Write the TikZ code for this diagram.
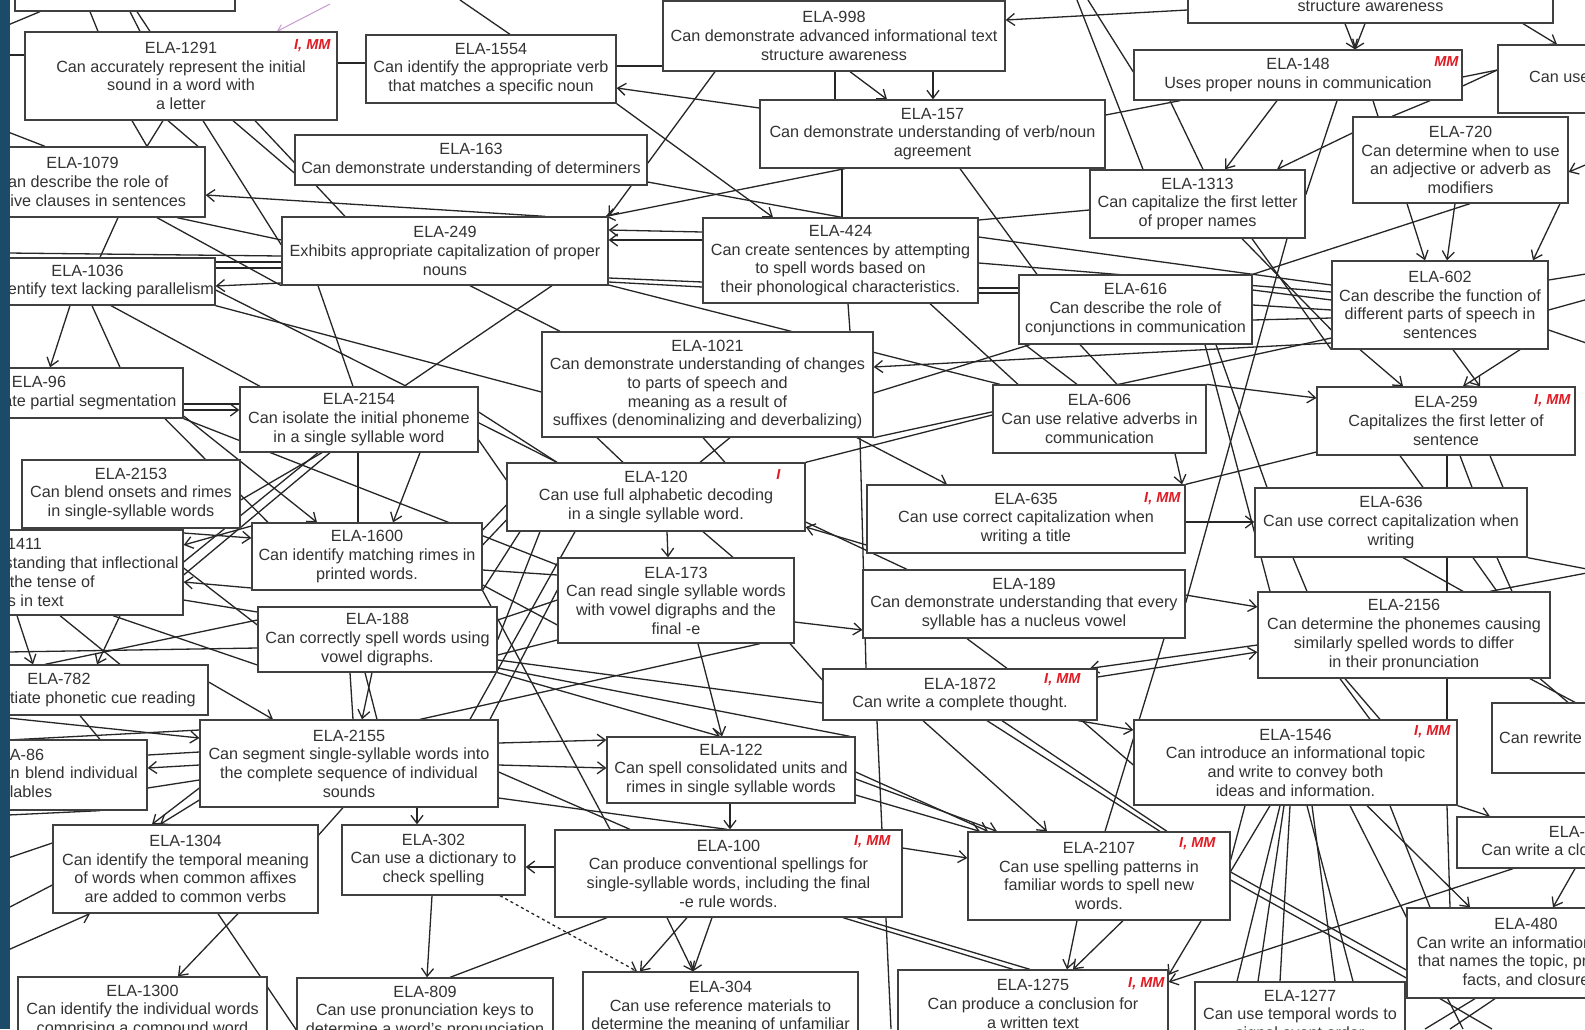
\documentclass[tikz,border=0pt]{standalone}
\usepackage{fontspec}
\setmainfont{Liberation Sans}
\usetikzlibrary{arrows.meta}
\pgfdeclarelayer{bg}
\pgfsetlayers{bg,main}
\definecolor{bandblue}{HTML}{1B4B68}
\definecolor{tagred}{HTML}{E01B24}
\definecolor{pinkline}{HTML}{C99AD0}
\tikzset{
 box/.style={draw=black!75, line width=1.3pt, fill=white, rectangle, inner sep=0pt, align=center,
   font=\fontsize{16.2}{18.7}\selectfont, text=black!80},
 ln/.style={line width=1.3pt, draw=black!85},
 ar/.style={ln, -{Straight Barb[length=8pt,width=12pt]}},
 tag/.style={font=\fontsize{14.5}{14.5}\selectfont\bfseries\itshape, text=tagred, anchor=north east, inner sep=0pt},
}
\begin{document}
\begin{tikzpicture}[x=1pt,y=-1pt]
\useasboundingbox (0,0) rectangle (1585,1029);
\begin{pgfonlayer}{bg}
\fill[white] (0,0) rectangle (1585,1029);
\end{pgfonlayer}

% ---------- boxes ----------
\node[box, minimum width=220, minimum height=52] (T1) at (125,-15) {};
\node[box, minimum width=312, minimum height=88] (n1291) at (181,76) {ELA-1291\\Can accurately represent the initial\\sound in a word with\\a letter};
\node[box, minimum width=250, minimum height=68] (n1554) at (491,69) {ELA-1554\\Can identify the appropriate verb\\that matches a specific noun};
\node[box, minimum width=342, minimum height=70] (n998) at (834,36) {ELA-998\\Can demonstrate advanced informational text\\structure awareness};
\node[box, minimum width=365, minimum height=54] (T2) at (1370.5,-4) {Can demonstrate informational text\\structure awareness};
\node[box, minimum width=262, minimum height=68] (nCanUse) at (1629,79) {ELA-1507\\Can use sentence variety in\\writing};
\node[box, minimum width=328, minimum height=50] (n148) at (1298,75) {ELA-148\\Uses proper nouns in communication};
\node[box, minimum width=345, minimum height=68] (n157) at (932.5,134) {ELA-157\\Can demonstrate understanding of verb/noun\\agreement};
\node[box, minimum width=352, minimum height=50] (n163) at (471,160) {ELA-163\\Can demonstrate understanding of determiners};
\node[box, minimum width=245, minimum height=70] (n1079) at (82.5,182) {ELA-1079\\Can describe the role of\\relative clauses in sentences};
\node[box, minimum width=255, minimum height=47] (n1036) at (87.5,281.5) {ELA-1036\\Can identify text lacking parallelism};
\node[box, minimum width=326, minimum height=68] (n249) at (445,251) {ELA-249\\Exhibits appropriate capitalization of proper\\nouns};
\node[box, minimum width=275, minimum height=85] (n424) at (840.5,260.5) {ELA-424\\Can create sentences by attempting\\to spell words based on\\their phonological characteristics.};
\node[box, minimum width=215, minimum height=68] (n1313) at (1197.5,204) {ELA-1313\\Can capitalize the first letter\\of proper names};
\node[box, minimum width=215, minimum height=86] (n720) at (1460.5,160) {ELA-720\\Can determine when to use\\an adjective or adverb as\\modifiers};
\node[box, minimum width=233, minimum height=69] (n616) at (1135.5,309.5) {ELA-616\\Can describe the role of\\conjunctions in communication};
\node[box, minimum width=216, minimum height=88] (n602) at (1440,305) {ELA-602\\Can describe the function of\\different parts of speech in\\sentences};
\node[box, minimum width=331, minimum height=105] (n1021) at (707.5,384.5) {ELA-1021\\Can demonstrate understanding of changes\\to parts of speech and\\meaning as a result of\\suffixes (denominalizing and deverbalizing)};
\node[box, minimum width=288, minimum height=50] (n96) at (39,393) {ELA-96\\Can demonstrate partial segmentation};
\node[box, minimum width=238, minimum height=65] (n2154) at (359,419.5) {ELA-2154\\Can isolate the initial phoneme\\in a single syllable word};
\node[box, minimum width=218, minimum height=68] (n2153) at (131,494) {ELA-2153\\Can blend onsets and rimes\\in single-syllable words};
\node[box, minimum width=353, minimum height=85] (n1411) at (6.5,572.5) {ELA-1411\\Can demonstrate understanding that inflectional\\affixes mark the tense of\\the verbs in text};
\node[box, minimum width=230, minimum height=67] (n1600) at (367,556.5) {ELA-1600\\Can identify matching rimes in\\printed words.};
\node[box, minimum width=298, minimum height=68] (n120) at (656,497) {ELA-120\\Can use full alphabetic decoding\\in a single syllable word.};
\node[box, minimum width=236, minimum height=85] (n173) at (676,600.5) {ELA-173\\Can read single syllable words\\with vowel digraphs and the\\final -e};
\node[box, minimum width=239, minimum height=65] (n188) at (377.5,639.5) {ELA-188\\Can correctly spell words using\\vowel digraphs.};
\node[box, minimum width=298, minimum height=50] (n782) at (59,690) {ELA-782\\Can differentiate phonetic cue reading};
\node[box, minimum width=298, minimum height=87] (n2155) at (349,763.5) {ELA-2155\\Can segment single-syllable words into\\the complete sequence of individual\\sounds};
\node[box, minimum width=165, minimum height=70, align=left, text width=149pt] (n86) at (64.5,775) {ELA-86\\Can blend individual\\syllables};
\node[box, minimum width=265, minimum height=88] (n1304) at (185.5,869) {ELA-1304\\Can identify the temporal meaning\\of words when common affixes\\are added to common verbs};
\node[box, minimum width=183, minimum height=70] (n302) at (433.5,860) {ELA-302\\Can use a dictionary to\\check spelling};
\node[box, minimum width=248, minimum height=66] (n122) at (731,770) {ELA-122\\Can spell consolidated units and\\rimes in single syllable words};
\node[box, minimum width=347, minimum height=87] (n100) at (728.5,873.5) {ELA-100\\Can produce conventional spellings for\\single-syllable words, including the final\\-e rule words.};
\node[box, minimum width=262, minimum height=88] (n2107) at (1099,876) {ELA-2107\\Can use spelling patterns in\\familiar words to spell new\\words.};
\node[box, minimum width=323, minimum height=85] (n1546) at (1295.5,762.5) {ELA-1546\\Can introduce an informational topic\\and write to convey both\\ideas and information.};
\node[box, minimum width=316, minimum height=70] (nRew) at (1650,738) {ELA-1560\\Can rewrite sentences to improve the flow\\of ideas};
\node[box, minimum width=256, minimum height=51] (nWrite) at (1585,842.5) {ELA-1587\\Can write a closing sentence};
\node[box, minimum width=238, minimum height=90] (n480) at (1526,953) {ELA-480\\Can write an informational text\\that names the topic, provides\\facts, and closure};
\node[box, minimum width=210, minimum height=68] (n1277) at (1300,1016) {ELA-1277\\Can use temporal words to\\signal event order};
\node[box, minimum width=270, minimum height=68] (n1275) at (1033,1004) {ELA-1275\\Can produce a conclusion for\\a written text};
\node[box, minimum width=275, minimum height=86] (n304) at (720.5,1015) {ELA-304\\Can use reference materials to\\determine the meaning of unfamiliar\\words};
\node[box, minimum width=256, minimum height=68] (n809) at (425,1012) {ELA-809\\Can use pronunciation keys to\\determine a word's pronunciation};
\node[box, minimum width=249, minimum height=68] (n1300) at (142.5,1011) {ELA-1300\\Can identify the individual words\\comprising a compound word};
\node[box, minimum width=272, minimum height=69] (n636) at (1391,522.5) {ELA-636\\Can use correct capitalization when\\writing};
\node[box, minimum width=258, minimum height=68] (n259) at (1446,421) {ELA-259\\Capitalizes the first letter of\\sentence};
\node[box, minimum width=292, minimum height=86] (n2156) at (1404,635) {ELA-2156\\Can determine the phonemes causing\\similarly spelled words to differ\\in their pronunciation};
\node[box, minimum width=213, minimum height=68] (n606) at (1099.5,419) {ELA-606\\Can use relative adverbs in\\communication};
\node[box, minimum width=318, minimum height=68] (n635) at (1026,519) {ELA-635\\Can use correct capitalization when\\writing a title};
\node[box, minimum width=322, minimum height=68] (n189) at (1024,604) {ELA-189\\Can demonstrate understanding that every\\syllable has a nucleus vowel};
\node[box, minimum width=274, minimum height=51] (n1872) at (960,694.5) {ELA-1872\\Can write a complete thought.};

% ---------- red tags ----------
\node[tag] (t1291) at ([xshift=-7pt,yshift=-8pt]n1291.north east) {I, MM};
\node[tag] (t148) at ([xshift=-4pt,yshift=-7pt]n148.north east) {MM};
\node[tag] (t259) at ([xshift=-5pt,yshift=-8pt]n259.north east) {I, MM};
\node[tag] (t635) at ([xshift=-5pt,yshift=-8pt]n635.north east) {I, MM};
\node[tag] (t120) at ([xshift=-25pt,yshift=-7pt]n120.north east) {I};
\node[tag] (t1872) at ([xshift=-17pt,yshift=-5pt]n1872.north east) {I, MM};
\node[tag] (t100) at ([xshift=-12pt,yshift=-6pt]n100.north east) {I, MM};
\node[tag] (t2107) at ([xshift=-15pt,yshift=-6pt]n2107.north east) {I, MM};
\node[tag] (t1546) at ([xshift=-7pt,yshift=-6pt]n1546.north east) {I, MM};
\node[tag] (t1275) at ([xshift=-4pt,yshift=-8pt]n1275.north east) {I, MM};

% ---------- free ends ----------
\coordinate (L1) at (8,25);
\coordinate (L2) at (8,55);
\coordinate (L3) at (8,253);
\coordinate (L4) at (8,132);
\coordinate (L5) at (8,652);
\coordinate (L6) at (8,718);
\coordinate (L7) at (8,740);
\coordinate (L8) at (8,858);
\coordinate (L9) at (8,908);
\coordinate (L10) at (8,950);
\coordinate (L11) at (8,815);
\coordinate (Tp1) at (460,0);
\coordinate (Tp2) at (1077,0);
\coordinate (Tp3) at (1088,0);
\coordinate (R1) at (1590,163);
\coordinate (R2) at (1592,570);
\coordinate (R3) at (1592,572);
\coordinate (R4) at (1592,273);
\coordinate (R5) at (1592,298);
\coordinate (R6) at (1592,345);
\coordinate (B1) at (891,1029);
\coordinate (B2) at (1463,1029);
\coordinate (B3) at (1492,1029);
\coordinate (B4) at (1425,1029);
\coordinate (B5) at (1450,1029);
\coordinate (pk) at (330,4);

\begin{pgfonlayer}{bg}
% top band
\draw[ln] (T1.south -| 90,0) -- (n1291.north -| 98,0);
\draw[ln] (T1.south -| 130,0) -- (n1291.north -| 140,0);
\draw[ln] (T1.south -| 137,0) -- (n1291.north -| 150,0);
\draw[ln] (L1) -- (T1.south -| 40,0);
\draw[ln] (L2) -- (n1291.west |- 0,55);
\draw[ln] (n1291.east |- 0,63) -- (n1554.west |- 0,63);
\draw[ln] (n1554.east |- 0,66) -- (n998.west |- 0,66);
\draw[ln] (Tp1) -- (n1554.north -| 510,0);
\draw[ar] (n157.west |- 0,108) -- (n1554.east |- 0,88);
\draw[ar] (n998.south -| 715,0) -- (n249.north east);
\draw[ar] (n1554.south east) -- (n424.north -| 773,0);
\draw[ar] (n998.south -| 850,0) -- (n157.north -| 887,0);
\draw[ar] (n998.south -| 933,0) -- (n157.north -| 933,0);
\draw[ln] (n998.south -| 835,0) -- (n157.north -| 835,0);
\draw[ar] (T2.west |- 0,10) -- (n998.east |- 0,20);
\draw[ln] (Tp2) -- (n1313.north -| 1143,0);
\draw[ln] (Tp3) -- (n148.west |- 0,72);
\draw[ln] (n157.east |- 0,115) -- (n148.south -| 1180,0);
\draw[ar] (T2.south -| 1345,0) -- (n148.north -| 1355,0);
\draw[ar] (T2.south -| 1365,0) -- (n148.north -| 1355,0);
\draw[ar] (T2.south -| 1523,0) -- (nCanUse.north -| 1557,0);
\draw[ln] (n148.east |- 0,77) -- (nCanUse.west |- 0,70);
\draw[ln] (n148.east |- 0,86) -- (nCanUse.west |- 0,70);
\draw[ar] (n148.south -| 1277,0) -- (n1313.north -| 1225,0);
\draw[ar] (n720.west |- 0,133) -- (n1313.north -| 1277,0);
\draw[ln] (n148.south -| 1337,0) -- (n1313.east |- 0,195);
\draw[ln] (n148.south -| 1373,0) -- (n720.north -| 1378,0);
\draw[ln] (n720.north -| 1392,0) -- (n148.south -| 1430,0);
\draw[ln] (n148.south -| 1170,0) -- (n1313.north -| 1203,0);
\draw[ar] (n720.south -| 1407,0) -- (n602.north -| 1425,0);
\draw[ar] (n720.south -| 1455,0) -- (n602.north -| 1447,0);
\draw[ar] (n720.south -| 1560,0) -- (n602.north -| 1533,0);
\draw[ar] (R1) -- (n720.east |- 0,172);
\draw[ln] (n720.south -| 1470,0) -- (n616.north east);
\draw[ln] (n1313.south -| 1242,0) -- (n602.west |- 0,330);
\draw[ln] (n1313.south -| 1252,0) -- (n602.south west);
\draw[ln] (n424.east |- 0,237) -- (n602.west |- 0,285);
\draw[ln] (n424.east |- 0,263) -- (n602.west |- 0,292);
\draw[ln] (n424.east |- 0,288) -- (n616.west |- 0,288);
\draw[ln] (n424.east |- 0,293) -- (n616.west |- 0,293);
\draw[ln] (n424.east |- 0,220) -- (n1313.west |- 0,210);
\draw[ln] (n616.east |- 0,290) -- (n602.west |- 0,300);
\draw[ln] (n616.east |- 0,305) -- (n602.west |- 0,310);
\draw[ln] (n616.east |- 0,320) -- (n602.west |- 0,318);
\draw[ln] (n602.east |- 0,280) -- (R4);
\draw[ln] (n602.east |- 0,310) -- (R5);
\draw[ln] (n602.east |- 0,330) -- (R6);
% upper left
\draw[ar] (n249.north -| 545,0) -- (n1079.east |- 0,195);
\draw[ln] (n249.west |- 0,262) -- (n1036.east |- 0,262);
\draw[ln] (n249.west |- 0,268) -- (n1036.east |- 0,268);
\draw[ar] (n249.west |- 0,283) -- (n1036.east |- 0,286);
\draw[ln] (L3) -- (n249.west |- 0,256);
\draw[ln] (n1079.south -| 118,0) -- (n1036.north -| 100,0);
\draw[ar] (n1036.south -| 70,0) -- (n96.north -| 50,0);
\draw[ln] (n1036.south -| 92,0) -- (n96.north -| 120,0);
\draw[ln] (L4) -- (n1079.north -| 45,0);
\draw[ln] (n1079.south -| 157,0) -- (n249.south west);
\draw[ln] (n1079.south -| 177,0) -- (n249.west |- 0,240);
\draw[ln] (n1291.south -| 132,0) -- (n1079.north -| 147,0);
\draw[ln] (n1291.south -| 163,0) -- (n1079.north -| 147,0);
\draw[ln] (n1291.south -| 168,0) -- (n1079.north -| 198,0);
\draw[ln] (n1291.south -| 203,0) -- (n249.west |- 0,245);
\draw[ln] (n1291.south -| 233,0) -- (n163.west |- 0,173);
\draw[ln] (n1291.south -| 255,0) -- (n249.north -| 345,0);
\draw[ar] (n157.south -| 845,0) -- ([xshift=-3pt]n249.north east);
\draw[ln] (n163.east |- 0,182) -- (n424.north -| 842,0);
\draw[ln] (n157.south -| 842,0) -- (n424.north -| 842,0);
\draw[ln] (n157.south -| 960,0) -- (n616.north -| 1037,0);
\draw[ln] (n424.south -| 848,0) -- (n1021.north -| 850,0);
\draw[ln] (n424.south -| 930,0) -- (n606.north -| 1018,0);
\draw[ln] (n249.east |- 0,285) -- (n606.north -| 1000,0);
\draw[ar] (n424.west |- 0,232) -- (n249.east |- 0,230);
\draw[ar] (n424.west |- 0,240) -- (n249.east |- 0,240);
\draw[ln] (n249.east |- 0,278) -- (n424.west |- 0,282);
\draw[ln] (n249.east |- 0,282) -- (n424.west |- 0,287);
% middle
\draw[ln] (n1036.south east) -- (n1021.west |- 0,392);
\draw[ln] (n1036.east |- 0,290) -- (n120.north -| 557,0);
\draw[ln] (n249.south -| 552,0) -- (n2154.north -| 404,0);
\draw[ln] (n1036.south -| 111,0) -- (n2154.north -| 260,0);
\draw[ln] (n249.south -| 318,0) -- (n2154.north -| 353,0);
\draw[ln] (n249.south -| 470,0) -- (n1021.north -| 560,0);
\draw[ln] (n2154.east |- 0,412) -- (n120.north -| 557,0);
\draw[ar] (n96.east |- 0,410) -- (n2154.west |- 0,410);
\draw[ln] (n96.east |- 0,404) -- (n2154.west |- 0,404);
\draw[ar] (n96.east |- 0,416) -- (n1600.north -| 317,0);
\draw[ln] (n96.south -| 165,0) -- (n1600.north -| 268,0);
\draw[ln] (n96.south east) -- (n173.west |- 0,565);
\draw[ln] (n2154.south -| 358,0) -- (n1600.north -| 358,0);
\draw[ar] (n2154.south -| 420,0) -- (n1600.north -| 393,0);
\draw[ln] (n2154.south -| 318,0) -- (n1411.east |- 0,562);
\draw[ln] (n2153.east |- 0,500) -- (n2154.south -| 322,0);
\draw[ln] (n1411.east |- 0,575) -- (n2154.south -| 330,0);
\draw[ar] (n1411.east |- 0,533) -- (n1600.west |- 0,538);
\draw[ar] (n1600.west |- 0,526) -- (n1411.east |- 0,545);
\draw[ar] (n1600.west |- 0,588) -- (n1411.east |- 0,582);
\draw[ln] (n1411.east |- 0,568) -- (n188.west |- 0,625);
\draw[ln] (n1411.east |- 0,600) -- (n188.west |- 0,612);
\draw[ar] (n1411.south -| 17,0) -- (n782.north -| 33,0);
\draw[ar] (n1411.south -| 120,0) -- (n782.north -| 97,0);
\draw[ln] (n1411.south -| 60,0) -- (n782.north -| 120,0);
\draw[ln] (n188.west |- 0,620) -- (n782.north -| 45,0);
\draw[ln] (n1411.south -| 113,0) -- (n188.west |- 0,665);
\draw[ln] (n188.west |- 0,648) -- (L5);
\draw[ar] (n782.east |- 0,682) -- (n2155.north -| 273,0);
\draw[ar] (L6) -- (n2155.west |- 0,738);
\draw[ln] (L7) -- (n2155.west |- 0,730);
\draw[ln] (n782.south -| 80,0) -- (n86.north -| 100,0);
\draw[ar] (n2155.west |- 0,765) -- (n86.east |- 0,768);
\draw[ln] (n2155.west |- 0,752) -- (n86.east |- 0,755);
\draw[ln] (n2155.west |- 0,780) -- (n86.east |- 0,788);
\draw[ar] (n2155.west |- 0,788) -- (n1304.north -| 152,0);
\draw[ar] (n2155.west |- 0,800) -- (n1304.north -| 160,0);
\draw[ln] (L8) -- (n1304.west |- 0,843);
\draw[ln] (L9) -- (n1304.west |- 0,885);
\draw[ar] (L10) -- (n1304.south -| 90,0);
\draw[ln] (L11) -- (n86.south -| 100,0);
\draw[ln] (n2155.south -| 343,0) -- (n1304.east |- 0,835);
\draw[ar] (n2155.south -| 417,0) -- (n302.north -| 417,0);
\draw[ar] (n1304.south -| 238,0) -- (n1300.north -| 178,0);
\draw[ln] (n1304.south -| 218,0) -- (n809.west |- 0,1030);
\draw[ar] (n2155.east |- 0,743) -- (n122.west |- 0,740);
\draw[ar] (n2155.east |- 0,765) -- (n122.west |- 0,768);
\draw[ln] (n2155.east |- 0,772) -- (n100.north -| 630,0);
\draw[ln] (n2155.east |- 0,798) -- (n100.north -| 727,0);
\draw[ar] (n122.south -| 730,0) -- (n100.north -| 730,0);
\draw[ar] (n100.west |- 0,867) -- (n302.east |- 0,867);
\draw[ar] (n302.south -| 432,0) -- (n809.north -| 427,0);
\draw[ar, dashed] (n302.south -| 500,0) -- (n304.north -| 637,0);
\draw[ln] (n100.south -| 607,0) -- (n809.north -| 450,0);
\draw[ar] (n100.south -| 687,0) -- (n304.north -| 640,0);
\draw[ar] (n100.south -| 667,0) -- (n304.north -| 693,0);
\draw[ar] (n100.south -| 712,0) -- (n304.north -| 693,0);
\draw[ar] (n100.east |- 0,848) -- (n2107.west |- 0,858);
\draw[ar] (n122.east |- 0,772) -- (n2107.north -| 988,0);
\draw[ar] (n122.east |- 0,779) -- (n2107.north -| 997,0);
\draw[ar] (n122.east |- 0,795) -- (n2107.north -| 980,0);
\draw[ar] (n1872.south -| 923,0) -- (n2107.north -| 1047,0);
\draw[ln] (n1872.south -| 987,0) -- (n2107.north -| 1160,0);
\draw[ln] (n1872.south -| 1002,0) -- (n2107.north -| 1167,0);
\draw[ar] (n1872.south -| 1078,0) -- (n1546.west |- 0,730);
\draw[ln] (n1872.south -| 1082,0) -- (n1546.west |- 0,765);
\draw[ar] (n2107.south -| 1077,0) -- (n1275.north -| 1067,0);
\draw[ar] (n2107.south -| 1123,0) -- (n1275.north -| 1073,0);
\draw[ln] (n1872.south -| 877,0) -- (B1);
\draw[ln] (n100.south -| 843,0) -- (n1275.north -| 1013,0);
\draw[ln] (n100.south -| 857,0) -- (n1275.north -| 1030,0);
\draw[ln] (n188.east |- 0,660) -- (n1872.west |- 0,703);
% lower right
\draw[ar] (n1546.south -| 1367,0) -- (n480.north -| 1470,0);
\draw[ln] (n1546.south -| 1447,0) -- (n480.north -| 1450,0);
\draw[ar] (n1546.south east) -- (nWrite.north -| 1490,0);
\draw[ar] (nWrite.south -| 1575,0) -- (n480.north -| 1553,0);
\draw[ln] (n1546.south -| 1280,0) -- (n1277.north -| 1237,0);
\draw[ln] (n1546.south -| 1284,0) -- (n1277.north -| 1258,0);
\draw[ln] (n1546.south -| 1290,0) -- (n1277.north -| 1280,0);
\draw[ln] (n1546.south -| 1307,0) -- (n1277.north -| 1353,0);
\draw[ln] (n1546.south -| 1312,0) -- (n1277.north -| 1335,0);
\draw[ln] (n1546.south -| 1350,0) -- (B2);
\draw[ln] (n1546.south -| 1390,0) -- (n480.north -| 1430,0);
\draw[ar] (n1546.south -| 1270,0) -- (n1275.east |- 0,975);
\draw[ar] (nWrite.south -| 1513,0) -- (n1275.east |- 0,982);
\draw[ln] (n1546.south -| 1245,0) -- (n2107.east |- 0,860);
\draw[ln] (n2107.east |- 0,872) -- (n480.west |- 0,970);
\draw[ln] (n2107.east |- 0,880) -- (n480.west |- 0,978);
\draw[ln] (n480.south -| 1440,0) -- (B3);
\draw[ln] (n480.south -| 1475,0) -- (B4);
\draw[ln] (n480.south -| 1495,0) -- (B5);
\draw[ln] (n2156.south -| 1340,0) -- (n1546.north -| 1370,0);
\draw[ln] (n2156.south -| 1345,0) -- (n1546.north -| 1380,0);
\draw[ln] (n2156.south -| 1447,0) -- (n1546.north -| 1447,0);
\draw[ln] (n2156.south -| 1540,0) -- (nRew.north -| 1568,0);
\draw[ln] (n2156.south -| 1530,0) -- (nRew.north -| 1575,0);
\draw[ln] (n2107.north -| 1105,0) -- (n189.south -| 1164,0);
\draw[ar] (n2156.west |- 0,645) -- (n1872.north -| 1090,0);
\draw[ar] (n189.east |- 0,595) -- (n2156.west |- 0,607);
\draw[ar] (n1872.east |- 0,677) -- (n2156.west |- 0,652);
% right middle
\draw[ar] (n635.east |- 0,522) -- (n636.west |- 0,522);
\draw[ln] (n259.south -| 1400,0) -- (n636.north -| 1423,0);
\draw[ln] (n259.south -| 1447,0) -- (n636.north -| 1447,0);
\draw[ln] (n259.south -| 1460,0) -- (n636.north -| 1472,0);
\draw[ln] (n259.south -| 1490,0) -- (n636.north -| 1503,0);
\draw[ln] (n636.south -| 1293,0) -- (n2156.north -| 1307,0);
\draw[ln] (n636.south -| 1403,0) -- (n2156.north -| 1463,0);
\draw[ln] (n636.south -| 1447,0) -- (n2156.north -| 1447,0);
\draw[ln] (n636.south -| 1473,0) -- (n2156.north -| 1497,0);
\draw[ln] (n636.south -| 1497,0) -- (n2156.north -| 1512,0);
\draw[ln] (n636.south east) -- (R2);
\draw[ln] (R3) -- (n2156.north -| 1490,0);
\draw[ar] (n602.south -| 1360,0) -- (n259.north -| 1403,0);
\draw[ar] (n602.south -| 1453,0) -- (n259.north -| 1480,0);
\draw[ar] (n602.south -| 1520,0) -- (n259.north -| 1463,0);
\draw[ar] (n606.north east) -- (n259.west |- 0,398);
\draw[ln] (n259.west |- 0,452) -- (n635.north east);
\draw[ln] (n616.south -| 1216,0) -- (n636.north -| 1267,0);
\draw[ln] (n616.south -| 1205,0) -- (n2156.north -| 1270,0);
\draw[ln] (n1313.south -| 1287,0) -- (n189.east |- 0,603);
\draw[ln] (n1021.south east) -- (n602.west |- 0,338);
\draw[ar] (n602.west |- 0,343) -- (n1021.east |- 0,367);
\draw[ln] (n1021.east |- 0,393) -- (n616.south -| 1030,0);
\draw[ln] (n616.south -| 1025,0) -- (n606.north -| 1077,0);
\draw[ln] (n616.south -| 1080,0) -- (n606.north -| 1117,0);
\draw[ln] (n606.west |- 0,415) -- (n120.north east);
\draw[ar] (n606.south -| 1175,0) -- (n635.north -| 1182,0);
\draw[ln] (n120.east |- 0,522) -- (n189.north -| 907,0);
\draw[ar] (n635.west |- 0,545) -- (n120.east |- 0,527);
\draw[ar] (n173.east |- 0,622) -- (n189.west |- 0,630);
\draw[ln] (n189.south -| 967,0) -- (n1872.north -| 1007,0);
\draw[ar] (n1021.south -| 857,0) -- (n635.north -| 947,0);
\draw[ln] (n1021.south -| 860,0) -- (n1872.north -| 866,0);
\draw[ln] (n1021.south -| 597,0) -- (n120.north -| 623,0);
\draw[ln] (n1021.south -| 703,0) -- (n120.north -| 725,0);
\draw[ln] (n1021.south -| 730,0) -- (n120.north -| 700,0);
\draw[ar] (n120.south -| 667,0) -- (n173.north -| 668,0);
\draw[ln] (n120.south -| 703,0) -- (n173.north -| 733,0);
\draw[ln] (n120.south -| 520,0) -- (n1600.east |- 0,590);
\draw[ln] (n120.south -| 540,0) -- (n188.east |- 0,640);
\draw[ln] (n120.west |- 0,520) -- (n1600.east |- 0,545);
\draw[ln] (n120.south -| 575,0) -- (n2155.north -| 470,0);
\draw[ln] (n173.west |- 0,575) -- (n1600.east |- 0,570);
\draw[ln] (n173.west |- 0,600) -- (n188.east |- 0,620);
\draw[ln] (n173.west |- 0,625) -- (n1600.east |- 0,585);
\draw[ln] (n173.west |- 0,640) -- (n188.east |- 0,655);
\draw[ln] (n173.west |- 0,590) -- (n2155.north -| 490,0);
\draw[ln] (n1600.east |- 0,530) -- (n120.west |- 0,505);
\draw[ln] (n2154.east |- 0,440) -- (n120.west |- 0,480);
\draw[ar] (n188.south east) -- (n122.north -| 720,0);
\draw[ar] (n173.south -| 698,0) -- (n122.north -| 722,0);
\draw[ln] (n1600.south east) -- (n100.north -| 610,0);
\draw[ln] (n188.south -| 350,0) -- (n2155.north -| 353,0);
\draw[ln] (n188.south -| 365,0) -- (n2155.north -| 377,0);
\draw[ar] (n188.south -| 372,0) -- (n2155.north -| 362,0);
\draw[ln] (n2155.north -| 420,0) -- (n173.south -| 760,0);
\draw[ln] (n188.east |- 0,668) -- (n122.north -| 850,0);
\draw[ln] (n173.south -| 790,0) -- (n1872.west |- 0,680);
% pink annotation arrow
\draw[pinkline, line width=1pt, -{Straight Barb[length=6pt,width=8pt]}] (pk) -- (n1291.north -| 277,0);
\end{pgfonlayer}

% left band
\fill[bandblue] (0,0) rectangle (10,1029);
\end{tikzpicture}
\end{document}
